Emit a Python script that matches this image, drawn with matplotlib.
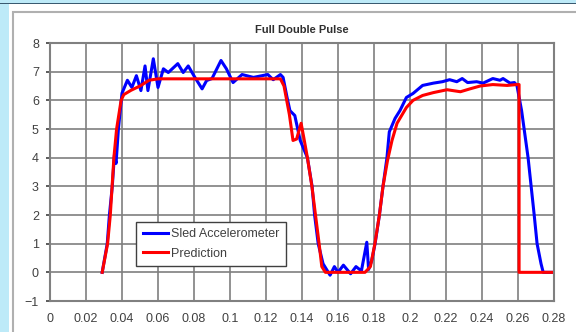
import matplotlib
matplotlib.use("Agg")
import matplotlib.pyplot as plt
from matplotlib.patches import Rectangle

# sled accelerometer trace (time in s, accel in g)
sled_t = [0.029, 0.0318, 0.033, 0.0346, 0.0358, 0.0367, 0.038, 0.040, 0.043,
          0.0455, 0.048, 0.0505, 0.0528, 0.0544, 0.0574, 0.060, 0.063, 0.0657,
          0.071, 0.074, 0.0768, 0.0805, 0.0845, 0.087, 0.090, 0.095, 0.098,
          0.1017, 0.1067, 0.113, 0.121, 0.124, 0.128, 0.1295, 0.1317, 0.1333,
          0.136, 0.139, 0.143, 0.1456, 0.147, 0.149, 0.1517, 0.1556, 0.158,
          0.160, 0.163, 0.167, 0.170, 0.173, 0.176, 0.177, 0.1787, 0.1806,
          0.183, 0.185, 0.1872, 0.1885, 0.1917, 0.1944, 0.198, 0.2017, 0.207,
          0.213, 0.218, 0.222, 0.226, 0.229, 0.232, 0.237, 0.2406, 0.246,
          0.250, 0.2517, 0.2556, 0.258, 0.2594, 0.262, 0.2656, 0.269, 0.2706,
          0.2728, 0.274, 0.28]
sled_g = [0.0, 1.0, 2.0, 3.0, 4.1, 3.8, 5.0, 6.25, 6.7,
          6.45, 6.86, 6.34, 7.2, 6.34, 7.45, 6.45, 7.1, 6.97,
          7.28, 6.97, 7.2, 6.8, 6.4, 6.69, 6.76, 7.39, 7.1,
          6.62, 6.9, 6.8, 6.9, 6.72, 6.9, 6.8, 6.1, 5.64,
          5.47, 4.6, 4.0, 3.0, 2.0, 1.0, 0.3, -0.1, 0.2,
          0.0, 0.25, -0.05, 0.2, 0.05, 1.05, 0.1, 0.4, 1.0,
          2.0, 3.0, 4.0, 4.9, 5.37, 5.64, 6.1, 6.24, 6.52,
          6.6, 6.65, 6.72, 6.65, 6.76, 6.62, 6.65, 6.6, 6.76,
          6.7, 6.76, 6.6, 6.62, 6.52, 5.64, 4.0, 2.0, 1.0,
          0.3, 0.0, 0.0]

# model prediction
pred_t = [0.029, 0.032, 0.0335, 0.0345, 0.0355, 0.037, 0.0395, 0.041, 0.045,
          0.050, 0.055, 0.060, 0.128, 0.130, 0.133, 0.135, 0.137, 0.1395,
          0.141, 0.143, 0.1455, 0.1475, 0.1495, 0.151, 0.153, 0.175, 0.178,
          0.1805, 0.183, 0.185, 0.1875, 0.190, 0.1928, 0.198, 0.2017, 0.207,
          0.213, 0.2206, 0.228, 0.2333, 0.239, 0.246, 0.254, 0.2594, 0.2606,
          0.2606, 0.28]
pred_g = [0.0, 1.0, 2.0, 3.0, 4.0, 5.0, 6.0, 6.2, 6.35,
          6.5, 6.7, 6.75, 6.75, 6.5, 5.5, 4.6, 4.65, 5.2,
          4.7, 4.0, 3.0, 2.0, 1.0, 0.2, 0.0, 0.0, 0.2,
          1.0, 2.0, 3.0, 3.9, 4.6, 5.2, 5.75, 6.0, 6.17,
          6.27, 6.37, 6.3, 6.4, 6.5, 6.55, 6.52, 6.55, 6.55,
          0.0, 0.0]

xticks = [0, 0.02, 0.04, 0.06, 0.08, 0.1, 0.12, 0.14, 0.16, 0.18, 0.2,
          0.22, 0.24, 0.26, 0.28]
xlabels = ['0', '0.02', '0.04', '0.06', '0.08', '0.1', '0.12', '0.14', '0.16',
           '0.18', '0.2', '0.22', '0.24', '0.26', '0.28']
yticks = [-1, 0, 1, 2, 3, 4, 5, 6, 7, 8]

plt.rcParams['font.family'] = ['Liberation Sans', 'DejaVu Sans']

fig = plt.figure(figsize=(5.76, 3.32), dpi=100)
fig.patch.set_facecolor('white')

# slide-like frame around the chart
W, H = 576, 332
def px(x, y, w, h, **kw):
    fig.patches.append(Rectangle((x / W, 1 - (y + h) / H), w / W, h / H,
                                 transform=fig.transFigure, **kw))
px(0, 0, 9, H, facecolor='#bdeaf8', edgecolor='none')
px(0, 0, W, 3, facecolor='#bdeaf8', edgecolor='none')
px(0, 3, W, 1, facecolor='#3a5a70', edgecolor='none')
px(12.5, 12, W, H, facecolor='none', edgecolor='#b0b0b0', linewidth=1.5)

ax = fig.add_axes([50 / W, 31 / H, 504 / W, 258 / H])
ax.plot(sled_t, sled_g, color='#0000ff', linewidth=2.2, label='Sled Accelerometer',
        solid_joinstyle='round')
ax.plot(pred_t, pred_g, color='#ff0000', linewidth=2.2, label='Prediction',
        solid_joinstyle='round')

ax.set_xlim(0, 0.28)
ax.set_ylim(-1, 8)
ax.set_xticks(xticks)
ax.set_xticklabels(xlabels)
ax.set_yticks(yticks)
ax.grid(True, color='#7f7f7f', linewidth=1.2)
ax.set_axisbelow(True)
for s in ax.spines.values():
    s.set_color('#808080')
    s.set_linewidth(1.5)
ax.tick_params(axis='both', labelsize=9, colors='#404040', length=3,
               width=1.2, pad=5)
ax.tick_params(axis='x', length=0, pad=9)

ax.set_title('Full Double Pulse', fontsize=8, fontweight='bold', pad=7,
             color='#303030')

leg = ax.legend(loc='lower left', bbox_to_anchor=(0.159, 0.112), fontsize=9,
                fancybox=False, framealpha=1, edgecolor='#404040',
                handlelength=2.0, borderpad=0.5, labelspacing=0.6,
                handletextpad=0.3)
leg.get_frame().set_linewidth(1.0)
for t in leg.get_texts():
    t.set_color('#404040')

fig.savefig('out.png', dpi=100)
